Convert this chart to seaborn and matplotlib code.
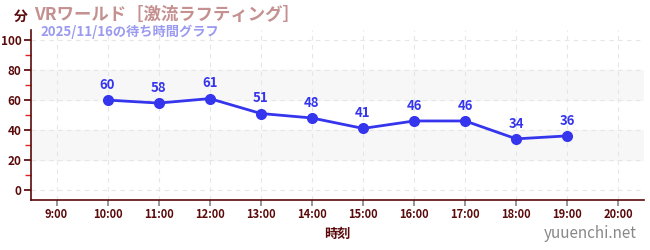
import matplotlib
matplotlib.use("Agg")
import matplotlib.pyplot as plt
import seaborn as sns
import pandas as pd
from matplotlib.ticker import FixedLocator

hours = [10, 11, 12, 13, 14, 15, 16, 17, 18, 19]
waits = [60, 58, 61, 51, 48, 41, 46, 46, 34, 36]
xtick_hours = list(range(9, 21))
xtick_labels = [f"{h}:00" for h in xtick_hours]
title = "VRワールド［激流ラフティング］"
subtitle = "2025/11/16の待ち時間グラフ"
unit = "分"
xlabel = "時刻"
watermark = "yuuenchi.net"

sns.set_theme(style="white")
plt.rcParams['font.family'] = ['Noto Sans CJK JP', 'DejaVu Sans']

dark = "#5a0a0a"
line_c = "#3535ee"

fig = plt.figure(figsize=(6.5, 2.5), dpi=100)
ax = fig.add_axes([31/650, 0.2, (644-31)/650, 0.68])

df = pd.DataFrame({"hour": hours, "wait": waits})
ax.axhspan(20, 40, color="#f7f7f7", zorder=0)
ax.axhspan(60, 80, color="#f7f7f7", zorder=0)
sns.lineplot(data=df, x="hour", y="wait", ax=ax, color=line_c, linewidth=2,
             marker="o", markersize=8, markeredgewidth=0, zorder=3)
for h, w in zip(hours, waits):
    ax.annotate(str(w), (h, w), xytext=(0, 6), textcoords="offset points",
                ha="center", va="bottom", color=line_c, fontsize=9.5, fontweight="bold")

ax.set_xlim(8.5, 20.5)
ax.set_ylim(-7, 107)
ax.set_xticks(xtick_hours)
ax.set_xticklabels(xtick_labels)
ax.yaxis.set_major_locator(FixedLocator([0, 20, 40, 60, 80, 100]))
ax.yaxis.set_minor_locator(FixedLocator([10, 30, 50, 70, 90]))
ax.grid(True, which="major", axis="both", linestyle=(0, (4, 4)), color="#e6e6e6", linewidth=0.8)
ax.set_axisbelow(True)
for s in ["top", "right"]:
    ax.spines[s].set_visible(False)
for s in ["left", "bottom"]:
    ax.spines[s].set_color(dark)
    ax.spines[s].set_linewidth(1.2)
ax.tick_params(axis="y", which="major", left=True, length=5, color=dark, labelsize=8.5,
               labelcolor=dark, pad=2)
ax.tick_params(axis="y", which="minor", left=True, length=4, color="#dd2222")
ax.tick_params(axis="x", which="major", bottom=True, length=4, color="#888888", labelsize=8,
               labelcolor=dark, pad=2)
for lab in ax.get_yticklabels() + ax.get_xticklabels():
    lab.set_fontweight("bold")
ax.set_xlabel(xlabel, color=dark, fontsize=9.5, fontweight="bold", labelpad=4)
ax.set_ylabel("")

fig.text(14/650, 1-17/250, unit, color=dark, fontsize=10, fontweight="bold", va="center", ha="left")
fig.text(34/650, 1-15/250, title, color="#c49090", fontsize=12.5, fontweight="bold", va="center", ha="left")
fig.text(40/650, 1-32/250, subtitle, color="#9a9af0", fontsize=9.5, fontweight="bold", va="center", ha="left")
fig.text(637/650, 1-233/250, watermark, color="#888888", fontsize=11, va="center", ha="right")

fig.savefig("out.png", dpi=100)
